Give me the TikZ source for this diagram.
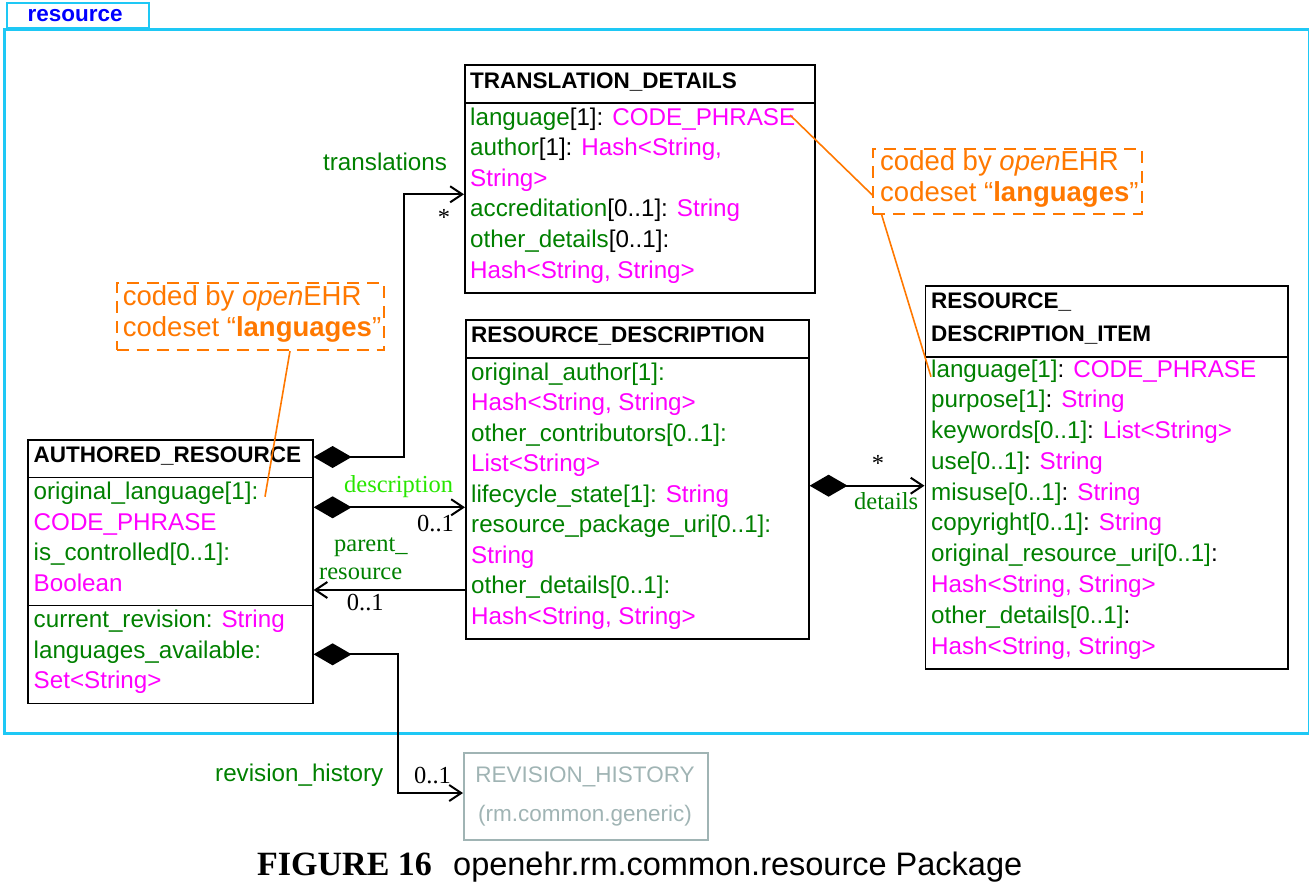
\documentclass[tikz,border=0pt]{standalone}
\usepackage{fontspec}
\setmainfont{Liberation Serif}
\setsansfont{Liberation Sans}
\usetikzlibrary{arrows.meta}
\definecolor{ag}{RGB}{0,128,0}
\definecolor{mg}{RGB}{255,0,255}
\definecolor{og}{RGB}{255,120,0}
\definecolor{lg}{RGB}{40,230,0}
\definecolor{cy}{RGB}{30,200,245}
\definecolor{gy}{RGB}{160,180,180}
\definecolor{tb}{RGB}{0,0,255}
\newcommand\attr[1]{\textcolor{ag}{#1}}
\newcommand\typ[1]{\textcolor{mg}{#1}}
\newcommand\fattr{\fontsize{24.2}{29}\selectfont\sffamily}
\newcommand\fhead{\fontsize{22.5}{27}\selectfont\sffamily\bfseries}
\newcommand\fnote{\fontsize{27.5}{31}\selectfont\sffamily}
\newcommand\fser{\fontsize{24.5}{29}\selectfont\rmfamily}
\tikzset{
  umlbox/.style={draw, line width=1.6pt, inner sep=0, anchor=north west},
  row/.style={anchor=base west, inner sep=0, font=\fattr},
  hd/.style={anchor=base west, inner sep=0, font=\fhead},
  notebox/.style={draw=og, line width=2pt, dash pattern=on 12pt off 8pt, inner sep=0, anchor=north west},
  notetext/.style={anchor=base west, inner sep=0, font=\fnote, text=og},
  lead/.style={draw=og, line width=1.6pt},
  lab/.style={anchor=base west, inner sep=0, font=\fser},
  slab/.style={anchor=base west, inner sep=0, font=\fattr, text=ag},
  conn/.style={line width=2pt},
  comp/.style={conn, arrows={Diamond[length=38pt,width=22pt]-Straight Barb[length=12pt,width=16pt]}},
  nav/.style={conn, arrows={-Straight Barb[length=12pt,width=16pt]}},
}
\begin{document}
\begin{tikzpicture}[x=1pt,y=-1pt]
\useasboundingbox (0,0) rectangle (1309,884);

% package frame
\node[draw=cy, line width=2pt, minimum width=141.7, minimum height=25.3, inner sep=0, anchor=north west] (tab) at (6,1.7) {};
\node[anchor=base west, inner sep=0, font=\fhead, text=tb] (tabtext) at (27.3,21.7) {resource};
\node[draw=cy, line width=3pt, minimum width=1305, minimum height=704, inner sep=0, anchor=north west] (frame) at (3,28) {};

% TRANSLATION_DETAILS
\node[umlbox, minimum width=350, minimum height=228] (TD) at (464,64) {};
\draw[line width=1.6pt] (TD.west |- 0,103) -- (TD.east |- 0,103);
\node[hd] (tdh) at (470,88) {TRANSLATION\_DETAILS};
\node[row] (td1) at (470,125) {\attr{language}[1]: \typ{CODE\_PHRASE}};
\node[row] (td2) at (470,155.6) {\attr{author}[1]: \typ{Hash<String,}};
\node[row] (td3) at (470,186.2) {\typ{String>}};
\node[row] (td4) at (470,216.8) {\attr{accreditation}[0..1]: \typ{String}};
\node[row] (td5) at (470,247.4) {\attr{other\_details}[0..1]:};
\node[row] (td6) at (470,278) {\typ{Hash<String, String>}};

% RESOURCE_DESCRIPTION
\node[umlbox, minimum width=343, minimum height=319] (RD) at (465,319) {};
\draw[line width=1.6pt] (RD.west |- 0,358) -- (RD.east |- 0,358);
\node[hd] (rdh) at (471,342) {RESOURCE\_DESCRIPTION};
\node[row] (rd1) at (471,380) {\attr{original\_author[1]:}};
\node[row] (rd2) at (471,410.5) {\typ{Hash<String, String>}};
\node[row] (rd3) at (471,441) {\attr{other\_contributors[0..1]:}};
\node[row] (rd4) at (471,471.5) {\typ{List<String>}};
\node[row] (rd5) at (471,502) {\attr{lifecycle\_state[1]:} \typ{String}};
\node[row] (rd6) at (471,532.5) {\attr{resource\_package\_uri[0..1]:}};
\node[row] (rd7) at (471,563) {\typ{String}};
\node[row] (rd8) at (471,593.5) {\attr{other\_details[0..1]:}};
\node[row] (rd9) at (471,624) {\typ{Hash<String, String>}};

% RESOURCE_DESCRIPTION_ITEM
\node[umlbox, minimum width=362.5, minimum height=383] (RDI) at (924.5,285) {};
\draw[line width=1.6pt] (RDI.west |- 0,357) -- (RDI.east |- 0,357);
\node[hd] (rdih1) at (931,308.5) {RESOURCE\_};
\node[hd] (rdih2) at (931,341) {DESCRIPTION\_ITEM};
\node[row] (ri1) at (931,377) {\attr{language[1]}: \typ{CODE\_PHRASE}};
\node[row] (ri2) at (931,407.8) {\attr{purpose[1]}: \typ{String}};
\node[row] (ri3) at (931,438.6) {\attr{keywords[0..1]}: \typ{List<String>}};
\node[row] (ri4) at (931,469.3) {\attr{use[0..1]}: \typ{String}};
\node[row] (ri5) at (931,500.1) {\attr{misuse[0..1]}: \typ{String}};
\node[row] (ri6) at (931,530.9) {\attr{copyright[0..1]}: \typ{String}};
\node[row] (ri7) at (931,561.7) {\attr{original\_resource\_uri[0..1]}:};
\node[row] (ri8) at (931,592.5) {\typ{Hash<String, String>}};
\node[row] (ri9) at (931,623.2) {\attr{other\_details[0..1]}:};
\node[row] (ri10) at (931,654) {\typ{Hash<String, String>}};

% AUTHORED_RESOURCE
\node[umlbox, minimum width=285, minimum height=263.5] (AR) at (27,439) {};
\draw[line width=1.6pt] (AR.west |- 0,477.5) -- (AR.east |- 0,477.5);
\draw[line width=1.6pt] (AR.west |- 0,605.5) -- (AR.east |- 0,605.5);
\node[hd] (arh) at (33.5,462.7) {AUTHORED\_RESOURCE};
\node[row] (ar1) at (33.5,499) {\attr{original\_language[1]:}};
\node[row] (ar2) at (33.5,530) {\typ{CODE\_PHRASE}};
\node[row] (ar3) at (33.5,560.5) {\attr{is\_controlled[0..1]:}};
\node[row] (ar4) at (33.5,591.5) {\typ{Boolean}};
\node[row] (ar5) at (33.5,627.3) {\attr{current\_revision:} \typ{String}};
\node[row] (ar6) at (33.5,658) {\attr{languages\_available:}};
\node[row] (ar7) at (33.5,688.5) {\typ{Set<String>}};

% REVISION_HISTORY
\node[draw=gy, line width=2pt, minimum width=244, minimum height=87, inner sep=0, anchor=north west] (RH) at (463,752) {};
\node[anchor=base, inner sep=0, font=\fontsize{22.5}{27}\selectfont\sffamily, text=gy] (rh1) at (585,782) {REVISION\_HISTORY};
\node[anchor=base, inner sep=0, font=\fontsize{22.5}{27}\selectfont\sffamily, text=gy] (rh2) at (585,821) {(rm.common.generic)};

% notes
\node[notebox, minimum width=267.6, minimum height=66.7] (nL) at (115.7,282.3) {};
\node[notetext] (nL1) at (122.7,305.7) {coded by \textit{open}EHR};
\node[notetext] (nL2) at (122.7,336.7) {codeset “\textbf{languages}”};
\node[notebox, minimum width=268.7, minimum height=65.3] (nR) at (872.3,147.7) {};
\node[notetext] (nR1) at (880,170.5) {coded by \textit{open}EHR};
\node[notetext] (nR2) at (880,201) {codeset “\textbf{languages}”};

% leader lines
\coordinate (arlang) at (265,496.7);
\coordinate (tdlang) at (790,115);
\coordinate (rilang) at (931,376.7);
\draw[lead] (nL.south -| 290,0) -- (arlang);
\draw[lead] (tdlang) -- (nR.west |- 0,195);
\draw[lead] (nR.south -| 881.7,0) -- (rilang);

% connectors
\draw[comp] (AR.east |- 0,457) -- (404.3,457) |- (TD.west |- 0,194.3);
\node[slab] (ltrans) at (323,170) {translations};
\node[anchor=center, inner sep=0, font=\fser] (mtrans) at (444,217) {*};

\draw[comp] (AR.east |- 0,507.3) -- (RD.west |- 0,507.3);
\node[lab, text=lg] (ldesc) at (344,492.7) {description};
\node[lab] (mdesc) at (417,531) {0..1};

\draw[nav] (RD.west |- 0,590) -- (AR.east |- 0,590);
\node[lab, text=ag] (lpar1) at (334,551.7) {parent\_};
\node[lab, text=ag] (lpar2) at (319,579) {resource};
\node[lab] (mpar) at (346.7,610.7) {0..1};

\draw[comp] (RD.east |- 0,485.7) -- (RDI.west |- 0,485.7);
\node[anchor=center, inner sep=0, font=\fser] (mdet) at (878,463) {*};
\node[lab, text=ag] (ldet) at (854,509.3) {details};

\draw[comp] (AR.east |- 0,654.3) -- (397.5,654.3) |- (RH.west |- 0,793);
\node[slab] (lrev) at (215,781) {revision\_history};
\node[lab] (mrev) at (414,783) {0..1};

% caption
\node[anchor=base west, inner sep=0, font=\fontsize{34}{40}\selectfont\rmfamily\bfseries] (cap1) at (257,875) {FIGURE 16};
\node[anchor=base west, inner sep=0, font=\fontsize{32.5}{40}\selectfont\sffamily] (cap2) at (453,875) {openehr.rm.common.resource Package};
\end{tikzpicture}
\end{document}
